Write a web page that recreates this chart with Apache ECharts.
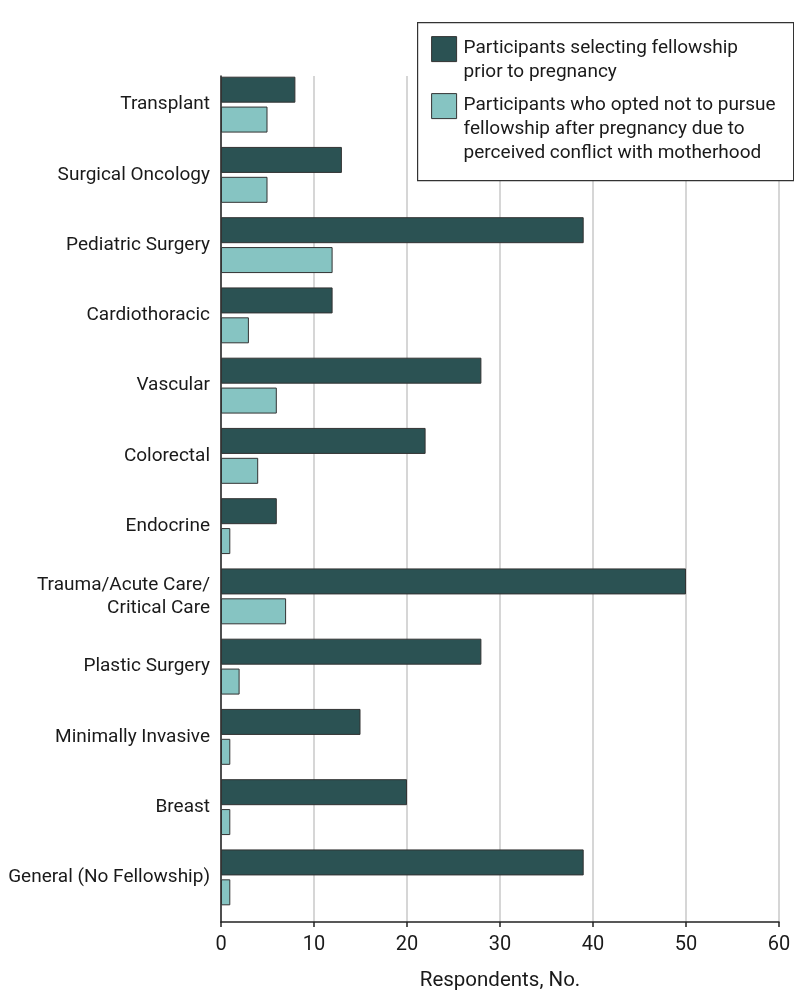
<!DOCTYPE html>
<html>
<head>
<meta charset="utf-8">
<script src="https://cdn.jsdelivr.net/npm/echarts@6/dist/echarts.min.js"></script>
<style>
html,body{margin:0;padding:0;background:#fff;}
#chart{width:794px;height:1007px;}
</style>
</head>
<body>
<div id="chart"></div>
<script>
var categories = ["Transplant", "Surgical Oncology", "Pediatric Surgery", "Cardiothoracic", "Vascular", "Colorectal", "Endocrine", "Trauma/Acute Care/\nCritical Care", "Plastic Surgery", "Minimally Invasive", "Breast", "General (No Fellowship)"];
var priorToPregnancy = [8, 13, 39, 12, 28, 22, 6, 50, 28, 15, 20, 39];
var optedNotAfterPregnancy = [5, 5, 12, 3, 6, 4, 1, 7, 2, 1, 1, 1];
var seriesNames = ["Participants selecting fellowship\nprior to pregnancy", "Participants who opted not to pursue\nfellowship after pregnancy due to\nperceived conflict with motherhood"];
var xTicks = [0, 60, 10];
var xTitle = "Respondents, No.";

var FONT = "Roboto";
var DARK = "#2b5253";
var LIGHT = "#86c4c2";
var TXT = "#1a1a1a";

var chart = echarts.init(document.getElementById('chart'), null, {renderer: 'canvas'});
var option = {
  animation: false,
  backgroundColor: '#fff',
  textStyle: {fontFamily: FONT},
  grid: [
    {left: 221, right: 15, top: 69.5, height: 843},
    {left: 221, right: 15, top: 76, bottom: 85}
  ],
  xAxis: [
    {gridIndex: 0, type: 'value', min: xTicks[0], max: xTicks[1], interval: xTicks[2], show: false},
    {gridIndex: 1, type: 'value', min: xTicks[0], max: xTicks[1], interval: xTicks[2],
      axisLine: {show: true, lineStyle: {color: '#222', width: 1.5}},
      axisTick: {show: true, length: 5, lineStyle: {color: '#222', width: 1.5}},
      axisLabel: {color: TXT, fontSize: 20, margin: 13, fontFamily: FONT},
      splitLine: {show: true, lineStyle: {color: '#d6d6d6', width: 2}},
      name: xTitle, nameLocation: 'middle', nameGap: 48,
      nameTextStyle: {color: TXT, fontSize: 20.5, fontFamily: FONT}
    }
  ],
  yAxis: [
    {gridIndex: 0, type: 'category', data: categories, inverse: true,
      axisLine: {show: false}, axisTick: {show: false},
      axisLabel: {color: TXT, fontSize: 19, margin: 11, lineHeight: 23, fontFamily: FONT, align: 'right'},
      splitLine: {show: false}
    },
    {gridIndex: 1, type: 'value', min: 0, max: 1,
      axisLine: {show: true, lineStyle: {color: '#222', width: 1.5}},
      axisTick: {show: false}, axisLabel: {show: false}, splitLine: {show: false}
    }
  ],
  series: [
    {name: seriesNames[0], type: 'bar', xAxisIndex: 0, yAxisIndex: 0, data: priorToPregnancy,
      barWidth: 26, barGap: '15%',
      itemStyle: {color: DARK, borderColor: '#333', borderWidth: 1}},
    {name: seriesNames[1], type: 'bar', xAxisIndex: 0, yAxisIndex: 0, data: optedNotAfterPregnancy,
      barWidth: 26, barGap: '15%',
      itemStyle: {color: LIGHT, borderColor: '#333', borderWidth: 1}}
  ],
  graphic: [
    {type: 'group', left: 417, top: 22, z: 100, children: [
      {type: 'rect', z: 100, shape: {x: 0, y: 0, width: 376, height: 158},
        style: {fill: '#fff', stroke: '#333', lineWidth: 1.2}},
      {type: 'rect', z: 101, shape: {x: 14, y: 14, width: 25, height: 25},
        style: {fill: DARK, stroke: '#333', lineWidth: 1}},
      {type: 'text', z: 101, x: 46, y: 14,
        style: {text: seriesNames[0], font: '19px ' + FONT, fill: TXT, lineHeight: 24, verticalAlign: 'top'}},
      {type: 'rect', z: 101, shape: {x: 14, y: 71, width: 25, height: 25},
        style: {fill: LIGHT, stroke: '#333', lineWidth: 1}},
      {type: 'text', z: 101, x: 46, y: 71,
        style: {text: seriesNames[1], font: '19px ' + FONT, fill: TXT, lineHeight: 24, verticalAlign: 'top'}}
    ]}
  ]
};
chart.setOption(option);
</script>
</body>
</html>
